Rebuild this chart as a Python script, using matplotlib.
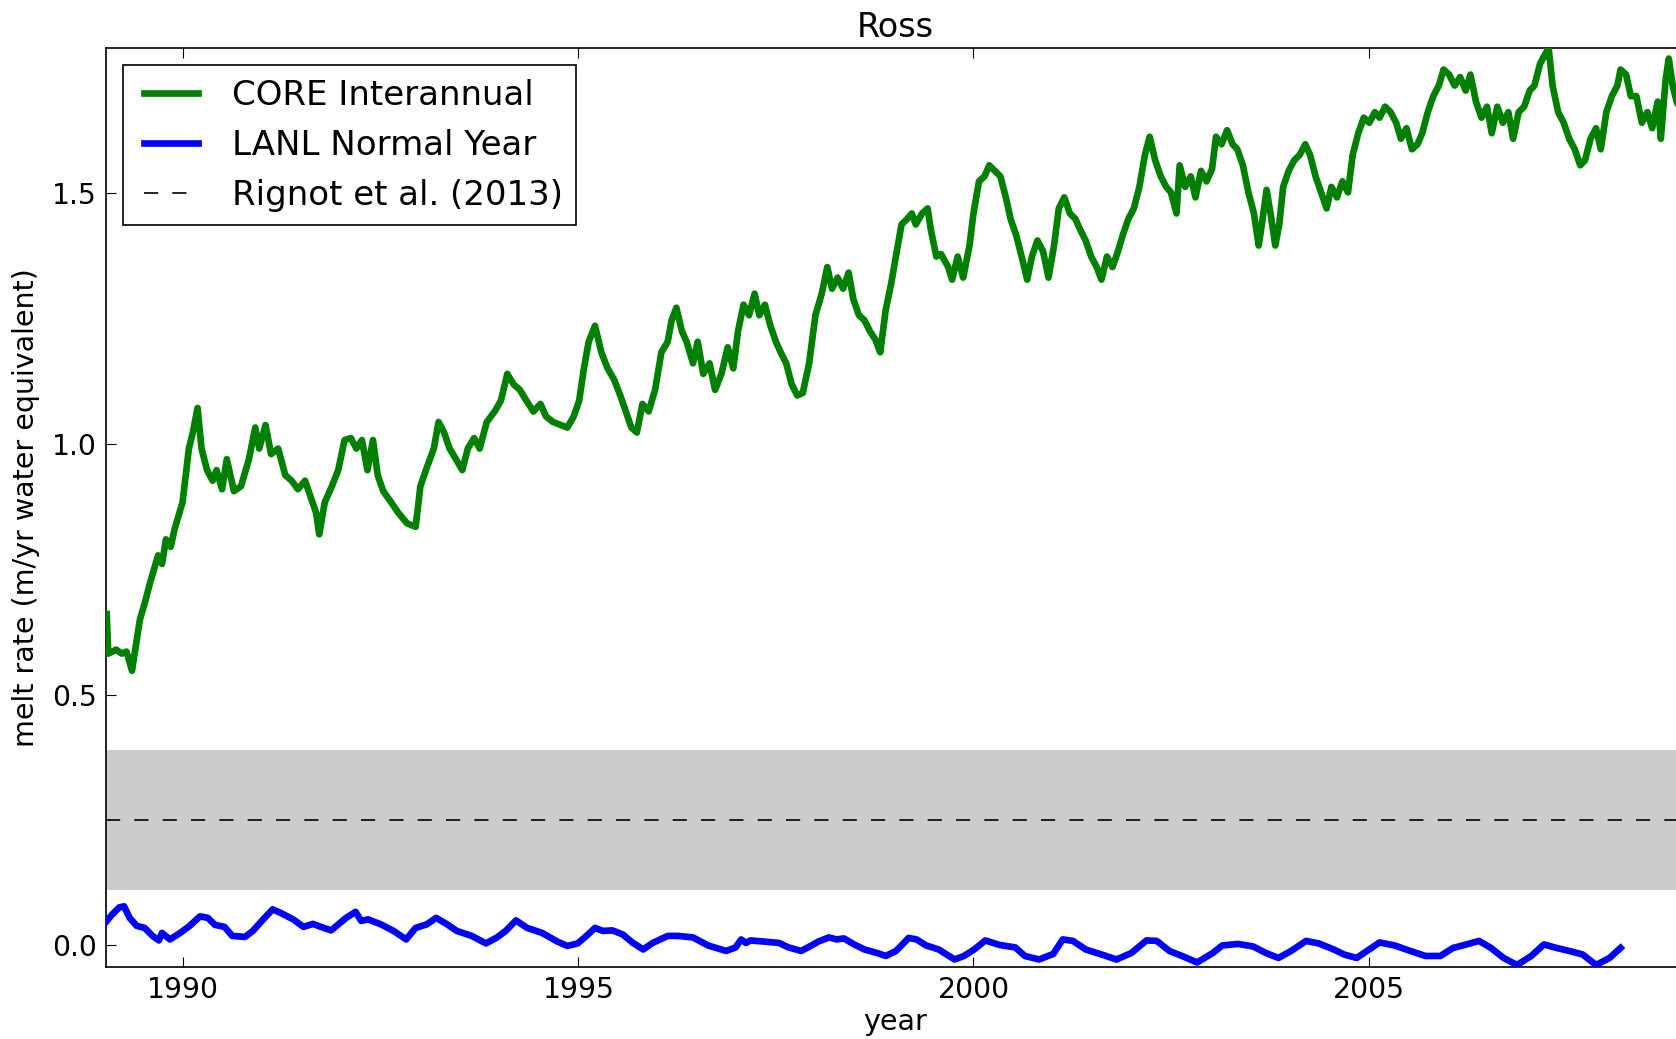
import matplotlib
matplotlib.use('Agg')
from matplotlib import pyplot as plt
from matplotlib.legend_handler import HandlerLine2D
from matplotlib.ticker import FormatStrFormatter

# CORE interannual forcing, Ross ice shelf melt (m/yr water equivalent)
core_years = [
    1989.03, 1989.05, 1989.15, 1989.22, 1989.28, 1989.35, 1989.45, 1989.51, 1989.58, 1989.68,
    1989.73, 1989.78, 1989.84, 1989.89, 1989.99, 1990.07, 1990.12, 1990.18, 1990.23, 1990.30,
    1990.37, 1990.42, 1990.49, 1990.55, 1990.64, 1990.73, 1990.83, 1990.91, 1990.96, 1991.04,
    1991.11, 1991.20, 1991.29, 1991.37, 1991.45, 1991.54, 1991.61, 1991.68, 1991.72, 1991.79,
    1991.88, 1991.96, 1992.04, 1992.12, 1992.19, 1992.26, 1992.33, 1992.40, 1992.46, 1992.53,
    1992.63, 1992.72, 1992.83, 1992.94, 1993.00, 1993.07, 1993.17, 1993.23, 1993.30, 1993.37,
    1993.45, 1993.53, 1993.60, 1993.68, 1993.75, 1993.84, 1993.94, 1994.02, 1994.10, 1994.18,
    1994.26, 1994.34, 1994.43, 1994.52, 1994.59, 1994.68, 1994.78, 1994.86, 1994.94, 1995.01,
    1995.07, 1995.13, 1995.21, 1995.29, 1995.37, 1995.45, 1995.53, 1995.60, 1995.67, 1995.74,
    1995.81, 1995.89, 1995.97, 1996.05, 1996.13, 1996.18, 1996.24, 1996.31, 1996.37, 1996.45,
    1996.51, 1996.58, 1996.66, 1996.73, 1996.81, 1996.89, 1996.96, 1997.02, 1997.09, 1997.16,
    1997.23, 1997.29, 1997.36, 1997.43, 1997.50, 1997.56, 1997.63, 1997.70, 1997.77, 1997.84,
    1997.92, 1998.00, 1998.08, 1998.15, 1998.21, 1998.28, 1998.35, 1998.42, 1998.48, 1998.55,
    1998.62, 1998.69, 1998.76, 1998.82, 1998.89, 1998.96, 1999.03, 1999.09, 1999.16, 1999.22,
    1999.27, 1999.35, 1999.42, 1999.46, 1999.53, 1999.59, 1999.68, 1999.73, 1999.80, 1999.87,
    1999.95, 2000.00, 2000.07, 2000.14, 2000.20, 2000.27, 2000.34, 2000.41, 2000.47, 2000.54,
    2000.61, 2000.68, 2000.74, 2000.81, 2000.88, 2000.95, 2001.02, 2001.08, 2001.15, 2001.22,
    2001.29, 2001.35, 2001.42, 2001.49, 2001.56, 2001.62, 2001.69, 2001.76, 2001.83, 2001.89,
    2001.96, 2002.03, 2002.10, 2002.17, 2002.23, 2002.30, 2002.37, 2002.44, 2002.50, 2002.57,
    2002.61, 2002.68, 2002.75, 2002.81, 2002.88, 2002.95, 2003.02, 2003.07, 2003.14, 2003.21,
    2003.28, 2003.34, 2003.41, 2003.48, 2003.55, 2003.61, 2003.65, 2003.71, 2003.76, 2003.82,
    2003.87, 2003.92, 2003.99, 2004.06, 2004.13, 2004.20, 2004.26, 2004.33, 2004.40, 2004.47,
    2004.53, 2004.60, 2004.67, 2004.74, 2004.80, 2004.87, 2004.94, 2005.01, 2005.08, 2005.14,
    2005.21, 2005.28, 2005.35, 2005.41, 2005.48, 2005.55, 2005.62, 2005.68, 2005.75, 2005.82,
    2005.89, 2005.95, 2006.02, 2006.09, 2006.16, 2006.23, 2006.29, 2006.36, 2006.43, 2006.50,
    2006.56, 2006.63, 2006.70, 2006.77, 2006.83, 2006.90, 2006.97, 2007.04, 2007.10, 2007.17,
    2007.24, 2007.28, 2007.33, 2007.40, 2007.47, 2007.54, 2007.61, 2007.68, 2007.74, 2007.81,
    2007.88, 2007.94, 2008.01, 2008.08, 2008.15, 2008.19, 2008.26, 2008.32, 2008.39, 2008.46,
    2008.53, 2008.59, 2008.66, 2008.70, 2008.76, 2008.80, 2008.85, 2008.90, 2008.97,
]
core_melt = [
    0.661, 0.582, 0.590, 0.582, 0.586, 0.548, 0.650, 0.682, 0.724, 0.778,
    0.761, 0.810, 0.795, 0.831, 0.884, 0.991, 1.023, 1.072, 0.991, 0.948,
    0.927, 0.948, 0.910, 0.970, 0.906, 0.916, 0.970, 1.033, 0.991, 1.038,
    0.980, 0.991, 0.938, 0.927, 0.910, 0.927, 0.895, 0.863, 0.820, 0.884,
    0.916, 0.948, 1.008, 1.012, 0.991, 1.008, 0.948, 1.008, 0.938, 0.906,
    0.884, 0.863, 0.842, 0.835, 0.916, 0.948, 0.991, 1.044, 1.023, 0.991,
    0.970, 0.948, 0.991, 1.012, 0.991, 1.044, 1.065, 1.087, 1.140, 1.119,
    1.108, 1.087, 1.065, 1.080, 1.055, 1.044, 1.038, 1.033, 1.055, 1.087,
    1.151, 1.204, 1.236, 1.183, 1.151, 1.129, 1.097, 1.065, 1.033, 1.023,
    1.080, 1.065, 1.108, 1.183, 1.204, 1.247, 1.272, 1.225, 1.204, 1.161,
    1.204, 1.140, 1.161, 1.108, 1.140, 1.193, 1.151, 1.225, 1.278, 1.257,
    1.300, 1.257, 1.278, 1.236, 1.204, 1.183, 1.161, 1.119, 1.097, 1.102,
    1.161, 1.257, 1.300, 1.353, 1.310, 1.332, 1.310, 1.342, 1.289, 1.257,
    1.247, 1.225, 1.208, 1.183, 1.268, 1.321, 1.385, 1.438, 1.449, 1.460,
    1.438, 1.460, 1.470, 1.428, 1.374, 1.379, 1.353, 1.328, 1.374, 1.332,
    1.396, 1.460, 1.524, 1.534, 1.556, 1.545, 1.534, 1.492, 1.449, 1.417,
    1.374, 1.328, 1.374, 1.406, 1.385, 1.332, 1.396, 1.470, 1.492, 1.460,
    1.449, 1.428, 1.406, 1.374, 1.353, 1.328, 1.374, 1.353, 1.385, 1.417,
    1.449, 1.470, 1.513, 1.577, 1.613, 1.566, 1.534, 1.513, 1.502, 1.460,
    1.556, 1.513, 1.534, 1.492, 1.545, 1.524, 1.549, 1.613, 1.598, 1.626,
    1.598, 1.588, 1.556, 1.502, 1.460, 1.396, 1.438, 1.507, 1.460, 1.396,
    1.438, 1.513, 1.545, 1.566, 1.577, 1.598, 1.577, 1.534, 1.502, 1.470,
    1.513, 1.492, 1.524, 1.502, 1.577, 1.620, 1.651, 1.641, 1.662, 1.651,
    1.673, 1.662, 1.641, 1.609, 1.630, 1.588, 1.598, 1.620, 1.662, 1.694,
    1.715, 1.747, 1.737, 1.715, 1.732, 1.705, 1.737, 1.683, 1.651, 1.673,
    1.620, 1.673, 1.641, 1.662, 1.609, 1.662, 1.673, 1.705, 1.715, 1.758,
    1.779, 1.790, 1.715, 1.662, 1.641, 1.609, 1.588, 1.556, 1.566, 1.609,
    1.630, 1.588, 1.662, 1.694, 1.715, 1.747, 1.737, 1.694, 1.694, 1.641,
    1.662, 1.630, 1.683, 1.609, 1.726, 1.769, 1.715, 1.683, 1.660,
]

# LANL normal year forcing
lanl_years = [
    1989.01, 1989.10, 1989.19, 1989.25, 1989.32, 1989.41, 1989.51, 1989.61, 1989.69, 1989.73,
    1989.83, 1989.96, 1990.08, 1990.21, 1990.31, 1990.40, 1990.52, 1990.62, 1990.78, 1990.88,
    1991.01, 1991.13, 1991.23, 1991.39, 1991.52, 1991.64, 1991.74, 1991.87, 1992.06, 1992.18,
    1992.25, 1992.34, 1992.50, 1992.66, 1992.82, 1992.94, 1993.08, 1993.20, 1993.33, 1993.46,
    1993.65, 1993.83, 1993.97, 1994.08, 1994.21, 1994.35, 1994.54, 1994.73, 1994.86, 1994.99,
    1995.08, 1995.21, 1995.31, 1995.43, 1995.56, 1995.69, 1995.82, 1995.94, 1996.13, 1996.26,
    1996.45, 1996.64, 1996.87, 1996.99, 1997.06, 1997.12, 1997.18, 1997.54, 1997.66, 1997.82,
    1997.95, 1998.04, 1998.17, 1998.27, 1998.36, 1998.49, 1998.62, 1998.78, 1998.89, 1999.02,
    1999.18, 1999.28, 1999.40, 1999.56, 1999.76, 1999.88, 2000.01, 2000.15, 2000.33, 2000.53,
    2000.65, 2000.83, 2001.01, 2001.13, 2001.26, 2001.42, 2001.62, 2001.81, 2002.00, 2002.19,
    2002.32, 2002.48, 2002.64, 2002.83, 2003.03, 2003.15, 2003.35, 2003.54, 2003.70, 2003.86,
    2004.02, 2004.21, 2004.37, 2004.56, 2004.69, 2004.85, 2004.98, 2005.14, 2005.33, 2005.53,
    2005.72, 2005.91, 2006.07, 2006.24, 2006.40, 2006.55, 2006.71, 2006.88, 2007.06, 2007.22,
    2007.38, 2007.54, 2007.71, 2007.88, 2008.05, 2008.19,
]
lanl_melt = [
    0.045, 0.062, 0.076, 0.078, 0.055, 0.039, 0.035, 0.019, 0.010, 0.025,
    0.012, 0.025, 0.039, 0.058, 0.055, 0.041, 0.037, 0.019, 0.017, 0.029,
    0.052, 0.072, 0.065, 0.052, 0.037, 0.043, 0.037, 0.030, 0.055, 0.067,
    0.049, 0.052, 0.042, 0.029, 0.012, 0.035, 0.042, 0.055, 0.043, 0.029,
    0.019, 0.004, 0.016, 0.029, 0.050, 0.035, 0.025, 0.008, -0.001, 0.004,
    0.016, 0.035, 0.029, 0.030, 0.022, 0.005, -0.008, 0.005, 0.019, 0.019,
    0.016, 0.000, -0.011, -0.004, 0.012, 0.005, 0.010, 0.005, -0.004, -0.011,
    0.000, 0.008, 0.016, 0.012, 0.014, 0.002, -0.008, -0.015, -0.021, -0.011,
    0.015, 0.012, 0.000, -0.008, -0.028, -0.021, -0.008, 0.010, 0.001, -0.004,
    -0.021, -0.028, -0.017, 0.012, 0.009, -0.008, -0.018, -0.028, -0.015, 0.010,
    0.009, -0.011, -0.021, -0.034, -0.015, 0.000, 0.003, -0.002, -0.015, -0.025,
    -0.011, 0.009, 0.004, -0.008, -0.018, -0.025, -0.011, 0.006, 0.000, -0.011,
    -0.021, -0.021, -0.005, 0.002, 0.009, -0.005, -0.025, -0.039, -0.021, 0.002,
    -0.005, -0.011, -0.018, -0.039, -0.025, -0.005,
]

# Rignot et al. (2013) estimate for Ross, mean and range
rignot_mean = 0.25
rignot_low = 0.11
rignot_high = 0.39

fig = plt.figure(figsize=(16.76, 10.39), dpi=100, facecolor='white')
ax = fig.add_axes([0.0632, 0.0693, 0.9419, 0.8845])

ax.axhspan(rignot_low, rignot_high, color='0.8', linewidth=0, zorder=1)
ax.plot(core_years, core_melt, color='g', linewidth=4.8, label='CORE Interannual', zorder=3)
ax.plot(lanl_years, lanl_melt, color='b', linewidth=4.8, label='LANL Normal Year', zorder=3)
ax.axhline(rignot_mean, color='k', linestyle='--', dashes=(8.5, 8.5), linewidth=1.2,
           label='Rignot et al. (2013)', zorder=2)

ax.set_xlim(1989.02, 2009.0)
ax.set_ylim(-0.043, 1.79)
ax.set_xticks([1990, 1995, 2000, 2005])
ax.set_yticks([0.0, 0.5, 1.0, 1.5])
ax.yaxis.set_major_formatter(FormatStrFormatter('%.1f'))
ax.tick_params(direction='in', length=7, width=0.8, pad=6.5, labelsize=20.3,
               top=True, right=False)
for spine in ax.spines.values():
    spine.set_linewidth(1.2)

ax.set_title('Ross', fontsize=24, pad=8)
ax.set_xlabel('year', fontsize=20.5, labelpad=3)
ax.set_ylabel('melt rate (m/yr water equivalent)', fontsize=20.5, labelpad=9)

# handles start a little in from the frame, as in the older legend layout
handler = HandlerLine2D(xpad=0.22)
leg = ax.legend(loc='upper left', fontsize=24.5, handlelength=1.8, handletextpad=1.0,
                labelspacing=0.5, borderpad=0.4, borderaxespad=0.5, fancybox=False,
                framealpha=1.0, edgecolor='k',
                handler_map={line: handler for line in ax.get_lines()})
leg.get_frame().set_linewidth(1.2)

fig.savefig('out.png', dpi=100, facecolor='white')
